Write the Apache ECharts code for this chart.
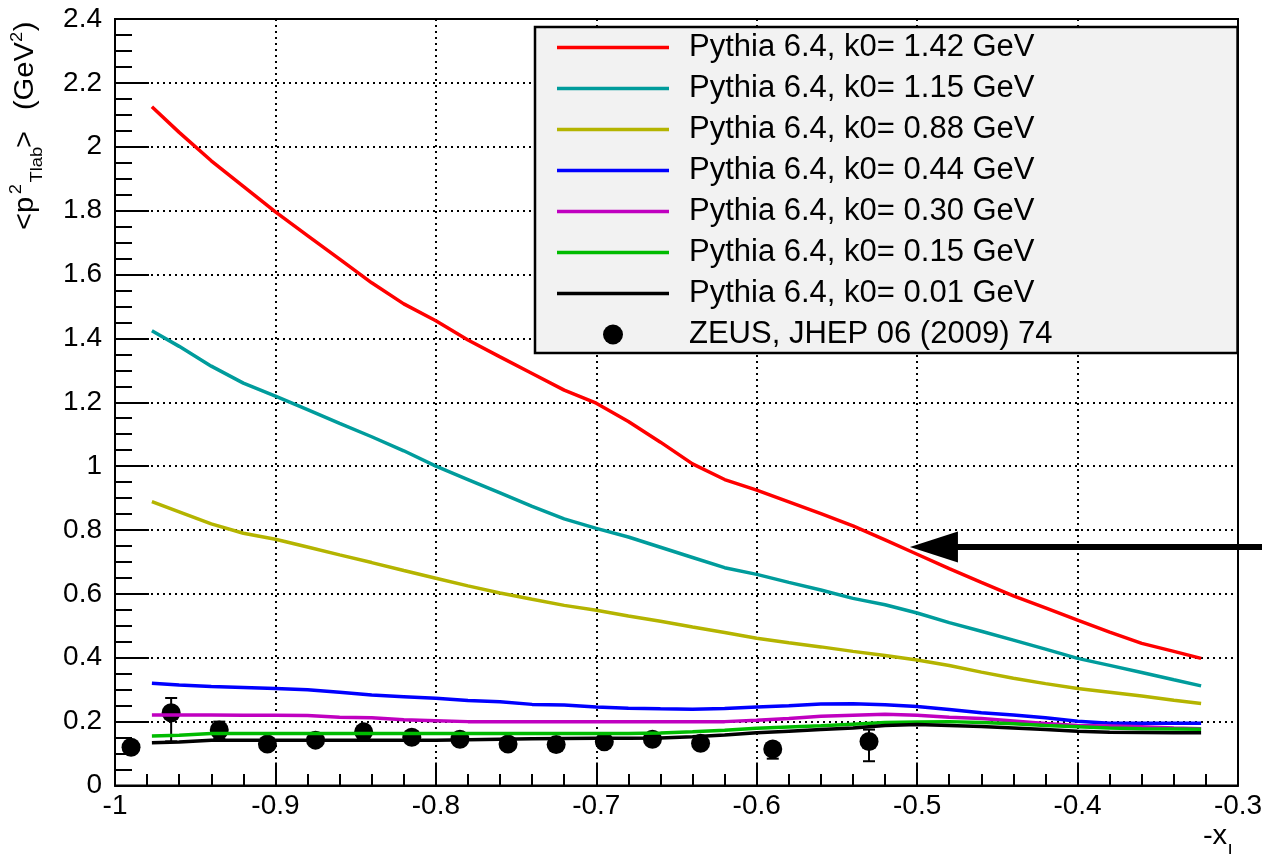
<!DOCTYPE html>
<html><head><meta charset="utf-8">
<script src="https://cdn.jsdelivr.net/npm/echarts@6/dist/echarts.min.js"></script>
<style>html,body{margin:0;padding:0;background:#fff}#c{width:1262px;height:854px}</style>
</head><body><div id="c"></div>
<script>
// sample positions along -x_L
const xPoints = [-0.977, -0.96, -0.94, -0.92, -0.90, -0.88, -0.86, -0.84, -0.82, -0.80, -0.78, -0.76, -0.74, -0.72, -0.70, -0.68, -0.66, -0.64, -0.62, -0.60, -0.58, -0.56, -0.54, -0.52, -0.50, -0.48, -0.46, -0.44, -0.42, -0.40, -0.38, -0.36, -0.34, -0.323];
const k142 = [2.125, 2.045, 1.956, 1.876, 1.796, 1.722, 1.648, 1.574, 1.508, 1.455, 1.395, 1.342, 1.290, 1.238, 1.197, 1.140, 1.075, 1.007, 0.958, 0.925, 0.888, 0.851, 0.813, 0.769, 0.724, 0.679, 0.636, 0.594, 0.556, 0.518, 0.480, 0.445, 0.420, 0.398];
const k115 = [1.424, 1.375, 1.313, 1.260, 1.219, 1.177, 1.134, 1.092, 1.048, 1.000, 0.958, 0.916, 0.874, 0.835, 0.805, 0.778, 0.746, 0.714, 0.682, 0.661, 0.636, 0.612, 0.586, 0.566, 0.540, 0.510, 0.483, 0.455, 0.427, 0.398, 0.376, 0.354, 0.331, 0.312];
const k088 = [0.889, 0.857, 0.819, 0.790, 0.771, 0.747, 0.722, 0.698, 0.673, 0.649, 0.625, 0.603, 0.583, 0.564, 0.549, 0.531, 0.514, 0.496, 0.479, 0.461, 0.447, 0.434, 0.420, 0.407, 0.393, 0.376, 0.355, 0.336, 0.319, 0.304, 0.292, 0.280, 0.267, 0.257];
const k044 = [0.320, 0.315, 0.310, 0.307, 0.304, 0.300, 0.292, 0.283, 0.278, 0.273, 0.266, 0.262, 0.254, 0.252, 0.246, 0.242, 0.240, 0.239, 0.241, 0.246, 0.250, 0.255, 0.256, 0.253, 0.247, 0.238, 0.228, 0.221, 0.212, 0.201, 0.195, 0.195, 0.195, 0.195];
const k030 = [0.221, 0.221, 0.221, 0.220, 0.220, 0.219, 0.214, 0.212, 0.206, 0.203, 0.200, 0.200, 0.200, 0.200, 0.200, 0.200, 0.200, 0.200, 0.200, 0.204, 0.210, 0.217, 0.220, 0.223, 0.220, 0.214, 0.210, 0.202, 0.194, 0.188, 0.186, 0.184, 0.180, 0.178];
const k015 = [0.155, 0.157, 0.163, 0.163, 0.163, 0.163, 0.163, 0.163, 0.163, 0.163, 0.163, 0.163, 0.163, 0.163, 0.163, 0.163, 0.164, 0.168, 0.173, 0.179, 0.183, 0.187, 0.192, 0.197, 0.199, 0.200, 0.197, 0.193, 0.188, 0.184, 0.180, 0.178, 0.177, 0.176];
const k001 = [0.134, 0.136, 0.142, 0.142, 0.142, 0.142, 0.142, 0.142, 0.142, 0.142, 0.143, 0.145, 0.146, 0.147, 0.148, 0.148, 0.149, 0.153, 0.158, 0.165, 0.170, 0.175, 0.180, 0.188, 0.191, 0.188, 0.185, 0.180, 0.175, 0.170, 0.167, 0.166, 0.165, 0.165];

const seriesNames = ['Pythia 6.4, k0= 1.42 GeV', 'Pythia 6.4, k0= 1.15 GeV', 'Pythia 6.4, k0= 0.88 GeV', 'Pythia 6.4, k0= 0.44 GeV', 'Pythia 6.4, k0= 0.30 GeV', 'Pythia 6.4, k0= 0.15 GeV', 'Pythia 6.4, k0= 0.01 GeV'];
const seriesValues = [k142, k115, k088, k044, k030, k015, k001];
const seriesColors = ['#ff0000', '#009c9c', '#b4b400', '#0000ff', '#c000c0', '#00bb00', '#000000'];

const zeusName = 'ZEUS, JHEP 06 (2009) 74';
const zeusX = [-0.99, -0.965, -0.935, -0.905, -0.875, -0.845, -0.815, -0.785, -0.755, -0.725, -0.695, -0.665, -0.635, -0.59, -0.53];
const zeusY = [0.120, 0.228, 0.174, 0.130, 0.142, 0.168, 0.151, 0.145, 0.130, 0.128, 0.137, 0.145, 0.132, 0.114, 0.138];
const zeusErrUp = [0.010, 0.046, 0.026, 0.010, 0.010, 0.012, 0.010, 0.010, 0.010, 0.010, 0.010, 0.010, 0.010, 0.012, 0.037];
const zeusErrDown = [0.010, 0.090, 0.026, 0.010, 0.010, 0.012, 0.010, 0.010, 0.010, 0.010, 0.010, 0.010, 0.010, 0.030, 0.062];

const arrowTip = [-0.5045, 0.747];

const chart = echarts.init(document.getElementById('c'), null, {renderer: 'canvas'});
const FONT = 'Liberation Sans, Arial, sans-serif';

const lineSeries = seriesNames.map((n, i) => ({
  name: n, type: 'line', symbol: 'none', showSymbol: false,
  color: seriesColors[i],
  lineStyle: {color: seriesColors[i], width: 3.5},
  data: xPoints.map((x, j) => [x, seriesValues[i][j]]),
  animation: false, z: 3
}));

const option = {
  animation: false,
  backgroundColor: '#fff',
  grid: {left: 115, right: 24, top: 19, bottom: 68.5, show: true, borderColor: '#000', borderWidth: 2, containLabel: false, outerBoundsMode: 'none'},
  legend: {
    orient: 'vertical', left: 535, top: 27,
    data: seriesNames.map(n => ({name: n, icon: 'path://M0,0H112V3.5H0Z'})).concat([{name: zeusName, icon: 'circle'}]),
    itemWidth: 112, itemHeight: 20, itemGap: 10,
    padding: [5, 185, 3, 22],
    backgroundColor: '#f2f2f2', borderColor: '#000', borderWidth: 2.5, borderRadius: 0,
    selectedMode: false,
    textStyle: {fontSize: 31, fontFamily: FONT, color: '#000', padding: [0, 0, 0, 15], width: 380}
  },
  xAxis: {
    type: 'value', min: -1, max: -0.3, interval: 0.1,
    axisLine: {show: true, onZero: false, lineStyle: {color: '#000', width: 2}},
    axisTick: {show: true, inside: true, length: 23, lineStyle: {color: '#000', width: 2}},
    minorTick: {show: true, splitNumber: 5, length: 11.5, lineStyle: {color: '#000', width: 2}},
    axisLabel: {fontSize: 28, fontFamily: FONT, color: '#000', margin: 7, showMinLabel: true, showMaxLabel: true, hideOverlap: false},
    splitLine: {show: true, lineStyle: {color: '#000', width: 2, type: [2, 4]}}
  },
  yAxis: {
    type: 'value', min: 0, max: 2.4, interval: 0.2,
    axisLine: {show: true, onZero: false, lineStyle: {color: '#000', width: 2}},
    axisTick: {show: true, inside: true, length: 34, lineStyle: {color: '#000', width: 2}},
    minorTick: {show: true, splitNumber: 4, length: 17, lineStyle: {color: '#000', width: 2}},
    axisLabel: {fontSize: 28, fontFamily: FONT, color: '#000', margin: 13, showMinLabel: true, showMaxLabel: true, hideOverlap: false},
    splitLine: {show: true, lineStyle: {color: '#000', width: 2, type: [2, 4]}}
  },
  series: [
    {
      name: 'zeusErr', type: 'custom', animation: false, z: 2,
      data: zeusX.map((x, i) => [x, zeusY[i], zeusErrUp[i], zeusErrDown[i]]),
      encode: {x: 0, y: 1},
      renderItem: function (params, api) {
        const x = api.value(0), y = api.value(1), up = api.value(2), dn = api.value(3);
        const c = api.coord([x, y]);
        const t = api.coord([x, y + up]);
        const b = api.coord([x, y - dn]);
        const cap = 6;
        const st = {stroke: '#000', lineWidth: 2};
        const ch = [{type: 'line', shape: {x1: c[0], y1: t[1], x2: c[0], y2: b[1]}, style: st}];
        if (up > 0.02) ch.push({type: 'line', shape: {x1: c[0] - cap, y1: t[1], x2: c[0] + cap, y2: t[1]}, style: st});
        if (dn > 0.02) ch.push({type: 'line', shape: {x1: c[0] - cap, y1: b[1], x2: c[0] + cap, y2: b[1]}, style: st});
        return {type: 'group', children: ch};
      }
    },
    {
      name: zeusName, type: 'scatter', symbol: 'circle', symbolSize: 19,
      color: '#000', itemStyle: {color: '#000', opacity: 1}, z: 2,
      data: zeusX.map((x, i) => [x, zeusY[i]]), animation: false
    }
  ].concat(lineSeries)
};
chart.setOption(option);

const tip = chart.convertToPixel({gridIndex: 0}, arrowTip);
const W = chart.getWidth();
const ts = (text, size, align) => ({text: text, fontSize: size, fontFamily: FONT, fill: '#000', align: align, verticalAlign: 'middle', textAlign: align, textVerticalAlign: 'middle'});
chart.setOption({
  graphic: [
    {type: 'line', id: 'arrowShaft', z: 100, shape: {x1: tip[0] + 40, y1: tip[1], x2: W, y2: tip[1]}, style: {stroke: '#000', lineWidth: 6}},
    {type: 'polygon', id: 'arrowHead', z: 100, shape: {points: [[tip[0], tip[1]], [tip[0] + 48, tip[1] - 15.5], [tip[0] + 48, tip[1] + 15.5]]}, style: {fill: '#000'}},
    {
      type: 'group', id: 'ytitle', x: 35, y: 230, rotation: Math.PI / 2, scaleX: 1.08, z: 100,
      children: [
        {type: 'text', x: 0, y: -9, style: ts('<p', 27, 'left')},
        {type: 'text', x: 33, y: -19, style: ts('2', 17, 'left')},
        {type: 'text', x: 44, y: 2, style: ts('Tlab', 17, 'left')},
        {type: 'text', x: 76, y: -9, style: ts('>', 27, 'left')},
        {type: 'text', x: 111, y: -9, style: ts('(GeV', 27, 'left')},
        {type: 'text', x: 174, y: -18, style: ts('2', 17, 'left')},
        {type: 'text', x: 184, y: -9, style: ts(')', 27, 'left')}
      ]
    },
    {
      type: 'group', id: 'xtitle', x: 1238, y: 846, scaleX: 1.08, z: 100,
      children: [
        {type: 'text', x: -10, y: -9, style: ts('-x', 27, 'right')},
        {type: 'text', x: 0, y: 5, style: ts('L', 17, 'right')}
      ]
    }
  ]
});
</script>
</body></html>
